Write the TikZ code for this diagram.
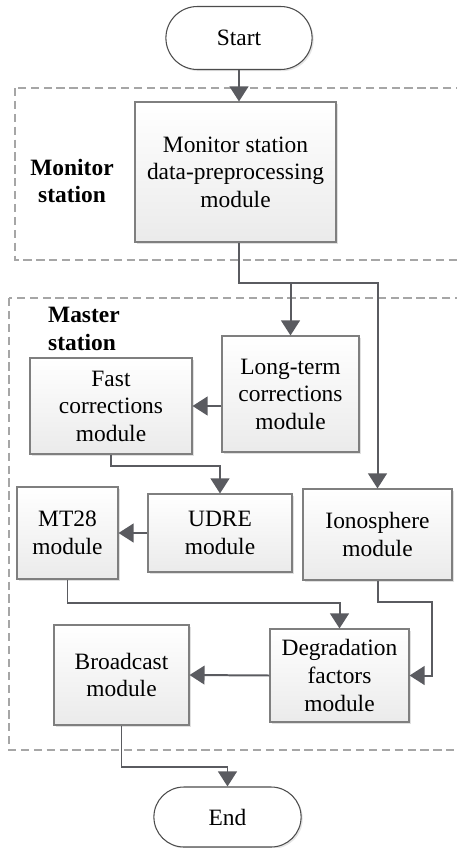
\documentclass[tikz,border=0pt]{standalone}
\usepackage{fontspec}
\setmainfont{Liberation Serif}
\usetikzlibrary{arrows.meta,shapes.misc,shadows}
\definecolor{linegray}{HTML}{5A5B60}
\definecolor{boxgray}{HTML}{7F7F7F}
\definecolor{dashgray}{HTML}{A6A6A6}
\begin{document}
\begin{tikzpicture}[
  x=0.03cm, y=-0.03cm,
  module/.style={rectangle, draw=boxgray, line width=0.9pt, top color=white, bottom color=black!8,
    drop shadow={shadow xshift=0.06cm, shadow yshift=-0.06cm, opacity=0.12, fill=black},
    align=center, inner sep=2pt, font=\fontsize{20}{23.5}\selectfont},
  terminal/.style={rounded rectangle, draw=black!70, line width=0.9pt, fill=white,
    drop shadow={shadow xshift=0.05cm, shadow yshift=-0.05cm, opacity=0.1, fill=black},
    font=\fontsize{20}{23.5}\selectfont},
  group/.style={draw=dashgray, line width=0.9pt, dash pattern=on 7pt off 4pt},
  grouplabel/.style={font=\fontsize{20}{23.5}\selectfont\bfseries},
  flow/.style={draw=linegray, line width=1.7pt, -{Triangle[length=0.45cm,width=0.56cm]}}
]
\useasboundingbox (0,0) rectangle (457,848);
\clip (0,0) rectangle (457,848);

% --- station groups ---
\draw[group] (15,88) rectangle (480,260);
\draw[group] (9,298) rectangle (480,750);
\node[grouplabel, align=center] (monlbl) at (72,181) {Monitor\\station};
\node[grouplabel, align=left, anchor=west] (mstlbl) at (44,329) {Master\\station};

% --- terminals ---
\node[terminal, minimum width=4.62cm, minimum height=1.89cm] (start) at (239,38) {Start};
\node[terminal, minimum width=4.65cm, minimum height=1.8cm] (end) at (227.5,817) {End};

% --- modules ---
\node[module, minimum width=6.03cm, minimum height=4.2cm] (mon) at (235.5,172) {Monitor station\\data-preprocessing\\module};
\node[module, minimum width=4.11cm, minimum height=3.48cm] (long) at (290.5,394) {Long-term\\corrections\\module};
\node[module, minimum width=4.86cm, minimum height=2.88cm] (fast) at (111,406) {Fast\\corrections\\module};
\node[module, minimum width=4.32cm, minimum height=2.34cm] (udre) at (220,533) {UDRE\\module};
\node[module, minimum width=3.03cm, minimum height=2.76cm] (mt28) at (67.5,533) {MT28\\module};
\node[module, minimum width=4.47cm, minimum height=2.73cm] (iono) at (377.5,534.5) {Ionosphere\\module};
\node[module, minimum width=4.17cm, minimum height=2.79cm] (degr) at (339.5,675.5) {Degradation\\factors\\module};
\node[module, minimum width=4.05cm, minimum height=3.0cm] (broad) at (121.5,675) {Broadcast\\module};

% --- helper points ---
\coordinate (split) at (239,283);
\coordinate (ionbend) at (432,602);

% --- connectors ---
\draw[flow] (start.south) -- (start.south |- mon.north);
\draw[flow] (mon.south -| split) -- (split) -| (long.north);
\draw[flow] (split) -| (iono.north);
\draw[flow] (long.west |- fast.east) -- (fast.east);
\draw[flow] (fast.south) -- ++(0,11) -| (udre.north);
\draw[flow] (udre.west) -- (mt28.east);
\draw[flow] (mt28.south) -- ++(0,23) -| (degr.north);
\draw[flow] (iono.south) |- (ionbend) |- (degr.east);
\draw[flow] (degr.west) -- (broad.east);
\draw[flow] (broad.south) -- ++(0,41) -| (end.north);

\end{tikzpicture}
\end{document}
